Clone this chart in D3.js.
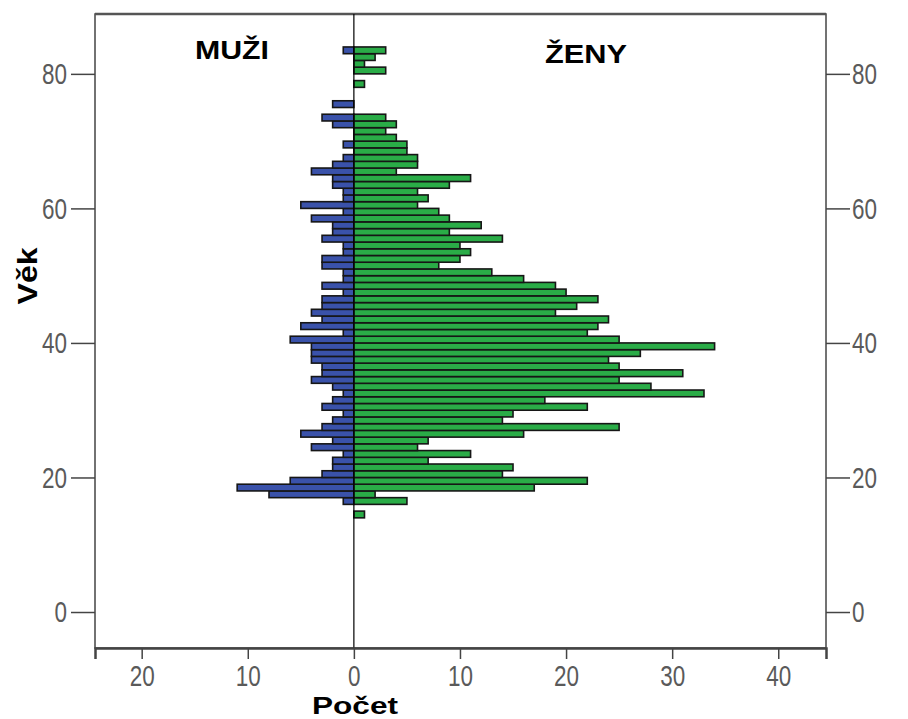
<!DOCTYPE html>
<html>
<head>
    <title>Věková pyramida</title>
    <script src="https://d3js.org/d3.v7.min.js"></script>
    <style>
        body {
            margin: 0;
            background-color: #fff;
        }
        .tick text {
            fill: #5a5a5a;
            font-family: "Liberation Sans Narrow", "Arial Narrow", "Liberation Sans", sans-serif;
            font-size: 30px;
        }
        .tick line {
            stroke: #444;
            stroke-width: 1.5;
        }
        .label {
            font-family: "Liberation Sans", Arial, sans-serif;
            font-weight: bold;
            fill: #000;
        }
    </style>
</head>
<body>
    <svg id="chart" width="908" height="719"></svg>
    <script>
        // age of each 1-year bin (lower edge)
        const ages = d3.range(14, 84);
        // counts, ages 14..83
        const muzi = [0, 0, 1, 8, 11, 6, 3, 2, 2, 1,
                      4, 2, 5, 3, 2, 1, 3, 2, 1, 2,
                      4, 3, 3, 4, 4, 4, 6, 1, 5, 3,
                      4, 3, 3, 1, 3, 1, 1, 3, 3, 1,
                      1, 3, 2, 2, 4, 1, 5, 1, 1, 2,
                      2, 4, 2, 1, 0, 1, 0, 0, 2, 3,
                      0, 2, 0, 0, 0, 0, 0, 0, 0, 1];
        const zeny = [1, 0, 5, 2, 17, 22, 14, 15, 7, 11,
                      6, 7, 16, 25, 14, 15, 22, 18, 33, 28,
                      25, 31, 25, 24, 27, 34, 25, 22, 23, 24,
                      19, 21, 23, 20, 19, 16, 13, 8, 10, 11,
                      10, 14, 9, 12, 9, 8, 6, 7, 6, 9,
                      11, 4, 6, 6, 5, 5, 4, 3, 4, 3,
                      0, 0, 0, 0, 1, 0, 3, 1, 2, 3];
        const xTicks = [-20, -10, 0, 10, 20, 30, 40];
        const yTicks = [0, 20, 40, 60, 80];

        const data = ages.map((a, i) => ({ age: a, m: muzi[i], f: zeny[i] }));

        const plotLeft = 95, plotRight = 826, plotTop = 14, plotBottom = 648;
        const svg = d3.select('#chart');

        const x = d3.scaleLinear().domain([-24.4, 44.5]).range([plotLeft, plotRight]);
        const y = d3.scaleLinear().domain([-5.35, 88.9]).range([plotBottom, plotTop]);

        // bars
        const barStroke = '#161616';
        svg.append('g').selectAll('rect')
            .data(data.filter(d => d.m > 0))
            .enter().append('rect')
            .attr('x', d => x(-d.m))
            .attr('width', d => x(0) - x(-d.m))
            .attr('y', d => y(d.age + 1))
            .attr('height', d => y(d.age) - y(d.age + 1))
            .attr('fill', '#3a52aa')
            .attr('stroke', barStroke)
            .attr('stroke-width', 1.6);

        svg.append('g').selectAll('rect')
            .data(data.filter(d => d.f > 0))
            .enter().append('rect')
            .attr('x', x(0))
            .attr('width', d => x(d.f) - x(0))
            .attr('y', d => y(d.age + 1))
            .attr('height', d => y(d.age) - y(d.age + 1))
            .attr('fill', '#2aac47')
            .attr('stroke', barStroke)
            .attr('stroke-width', 1.6);

        // frame
        svg.append('rect')
            .attr('x', plotLeft).attr('y', plotTop)
            .attr('width', plotRight - plotLeft).attr('height', plotBottom - plotTop)
            .attr('fill', 'none')
            .attr('stroke', '#444')
            .attr('stroke-width', 1.5);
        svg.append('line')
            .attr('x1', plotLeft).attr('x2', plotRight)
            .attr('y1', plotTop).attr('y2', plotTop)
            .attr('stroke', '#555').attr('stroke-width', 2.5);

        // zero line
        svg.append('line')
            .attr('x1', x(0)).attr('x2', x(0))
            .attr('y1', plotTop).attr('y2', plotBottom)
            .attr('stroke', '#000')
            .attr('stroke-width', 1.2);

        // axes
        const xAxis = svg.append('g')
            .attr('transform', `translate(0,${plotBottom})`)
            .call(d3.axisBottom(x).tickValues(xTicks)
                .tickFormat(d => Math.abs(d)).tickSize(11).tickPadding(6));
        xAxis.select('.domain').attr('stroke', '#444').attr('stroke-width', 2.5);
        xAxis.selectAll('.tick text').style('font-size', '29px');

        const yLeft = svg.append('g')
            .attr('transform', `translate(${plotLeft},0)`)
            .call(d3.axisLeft(y).tickValues(yTicks).tickSize(24).tickPadding(4));
        yLeft.select('.domain').remove();

        const yRight = svg.append('g')
            .attr('transform', `translate(${plotRight},0)`)
            .call(d3.axisRight(y).tickValues(yTicks).tickSize(24).tickPadding(2));
        yRight.select('.domain').remove();

        // condensed look of the tick numbers
        svg.selectAll('.tick text')
            .attr('textLength', function () { return this.textContent.length * 12.5; })
            .attr('lengthAdjust', 'spacingAndGlyphs');

        // labels
        svg.append('text').attr('class', 'label')
            .attr('x', 195).attr('y', 59)
            .attr('font-size', 25)
            .attr('textLength', 74).attr('lengthAdjust', 'spacingAndGlyphs')
            .text('MUŽI');

        svg.append('text').attr('class', 'label')
            .attr('x', 545).attr('y', 63)
            .attr('font-size', 25)
            .attr('textLength', 82).attr('lengthAdjust', 'spacingAndGlyphs')
            .text('ŽENY');

        svg.append('text').attr('class', 'label')
            .attr('transform', 'translate(37,276) rotate(-90)')
            .attr('text-anchor', 'middle')
            .attr('font-size', 27)
            .attr('textLength', 57).attr('lengthAdjust', 'spacingAndGlyphs')
            .text('Věk');

        svg.append('text').attr('class', 'label')
            .attr('x', 355).attr('y', 713.5)
            .attr('text-anchor', 'middle')
            .attr('font-size', 24)
            .attr('textLength', 86).attr('lengthAdjust', 'spacingAndGlyphs')
            .text('Počet');
    </script>
</body>
</html>
